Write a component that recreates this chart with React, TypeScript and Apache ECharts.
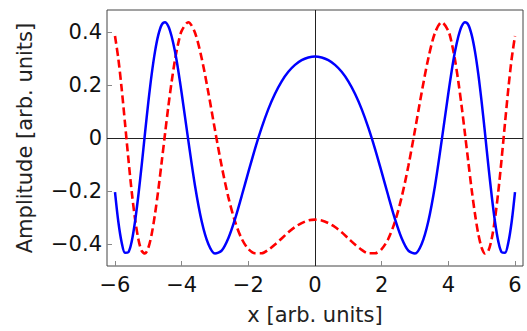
import React, { useEffect, useRef } from "react";
import * as echarts from "echarts";

const xs = [
  -6.0, -5.9, -5.8, -5.7, -5.6, -5.5, -5.4, -5.3, -5.2, -5.1, -5.0, -4.9, -4.8, -4.7, -4.6, -4.5, -4.4, -4.3, -4.2, -4.1,
  -4.0, -3.8, -3.6, -3.4, -3.2, -3.0, -2.8, -2.6, -2.4, -2.2, -2.0, -1.8, -1.6, -1.4, -1.2, -1.0, -0.8, -0.6, -0.4, -0.2,
  0,
  0.2, 0.4, 0.6, 0.8, 1.0, 1.2, 1.4, 1.6, 1.8, 2.0, 2.2, 2.4, 2.6, 2.8, 3.0, 3.2, 3.4, 3.6, 3.8, 4.0,
  4.1, 4.2, 4.3, 4.4, 4.5, 4.6, 4.7, 4.8, 4.9, 5.0, 5.1, 5.2, 5.3, 5.4, 5.5, 5.6, 5.7, 5.8, 5.9, 6.0,
];

const blueValues = [
  -0.204, -0.316, -0.394, -0.433, -0.431, -0.391, -0.316, -0.217, -0.103, 0.018, 0.135, 0.24, 0.326, 0.389, 0.427, 0.437, 0.422, 0.383, 0.326, 0.253,
  0.169, -0.01, -0.18, -0.314, -0.4, -0.436, -0.425, -0.378, -0.306, -0.219, -0.129, -0.041, 0.039, 0.109, 0.167, 0.214, 0.25, 0.276, 0.294, 0.304,
  0.308,
  0.304, 0.294, 0.276, 0.25, 0.214, 0.167, 0.109, 0.039, -0.041, -0.129, -0.219, -0.306, -0.378, -0.425, -0.436, -0.4, -0.314, -0.18, -0.01, 0.169,
  0.253, 0.326, 0.383, 0.422, 0.437, 0.427, 0.389, 0.326, 0.24, 0.135, 0.018, -0.103, -0.217, -0.316, -0.391, -0.431, -0.433, -0.394, -0.316, -0.204,
];

const redValues = [
  0.385, 0.299, 0.186, 0.056, -0.077, -0.201, -0.304, -0.381, -0.426, -0.436, -0.414, -0.363, -0.287, -0.195, -0.091, 0.015, 0.119, 0.213, 0.295, 0.359,
  0.404, 0.437, 0.397, 0.301, 0.172, 0.03, -0.106, -0.223, -0.315, -0.38, -0.419, -0.435, -0.435, -0.422, -0.402, -0.379, -0.356, -0.336, -0.321, -0.311,
  -0.308,
  -0.311, -0.321, -0.336, -0.356, -0.379, -0.402, -0.422, -0.435, -0.435, -0.419, -0.38, -0.315, -0.223, -0.106, 0.03, 0.172, 0.301, 0.397, 0.437, 0.404,
  0.359, 0.295, 0.213, 0.119, 0.015, -0.091, -0.195, -0.287, -0.363, -0.414, -0.436, -0.426, -0.381, -0.304, -0.201, -0.077, 0.056, 0.186, 0.299, 0.385,
];

const xTicks = [-6, -4, -2, 0, 2, 4, 6];
const yTicks = [-0.4, -0.2, 0, 0.2, 0.4];

const FONT = "DejaVu Sans";

const fmt = (v: number) => {
  if (Math.abs(v) < 1e-9) return "0";
  const s = String(Math.round(Math.abs(v) * 10) / 10);
  return (v < 0 ? "\u2212" : "") + s;
};

export default function App() {
  const ref = useRef<HTMLDivElement>(null);
  useEffect(() => {
    if (!ref.current) return;
    const chart = echarts.init(ref.current, undefined, { renderer: "svg" });
    chart.setOption({
      animation: false,
      backgroundColor: "#ffffff",
      grid: {
        left: 107,
        right: 4,
        top: 10,
        bottom: 65,
        show: true,
        borderColor: "#444",
        borderWidth: 1,
        backgroundColor: "transparent",
      },
      xAxis: {
        type: "value",
        min: -6.24,
        max: 6.24,
        name: "x [arb. units]",
        nameLocation: "middle",
        nameGap: 38,
        nameTextStyle: { fontFamily: FONT, fontSize: 21, color: "#222" },
        axisLine: { show: false, onZero: false },
        splitLine: { show: false },
        axisTick: { show: true, inside: true, length: 5, customValues: xTicks, lineStyle: { color: "#888" } },
        axisLabel: {
          customValues: xTicks,
          fontFamily: FONT,
          fontSize: 21,
          color: "#111",
          margin: 8,
          formatter: (v: number) => fmt(v),
        },
      },
      yAxis: {
        type: "value",
        min: -0.483,
        max: 0.483,
        name: "Amplitude [arb. units]",
        nameLocation: "middle",
        nameGap: 72,
        nameTextStyle: { fontFamily: FONT, fontSize: 21, color: "#222" },
        axisLine: { show: false, onZero: false },
        splitLine: { show: false },
        axisTick: { show: true, inside: true, length: 5, customValues: yTicks, lineStyle: { color: "#888" } },
        axisLabel: {
          customValues: yTicks,
          fontFamily: FONT,
          fontSize: 21,
          color: "#111",
          margin: 5,
          formatter: (v: number) => fmt(v),
        },
      },
      series: [
        {
          type: "line",
          data: xs.map((x, i) => [x, blueValues[i]]),
          showSymbol: false,
          smooth: 0.3,
          z: 3,
          lineStyle: { color: "#0000ff", width: 2.5 },
          markLine: {
            silent: true,
            symbol: "none",
            label: { show: false },
            lineStyle: { color: "#222", width: 1, type: "solid" },
            z: 1,
            data: [{ xAxis: 0 }, { yAxis: 0 }],
          },
        },
        {
          type: "line",
          data: xs.map((x, i) => [x, redValues[i]]),
          showSymbol: false,
          smooth: 0.3,
          z: 2,
          lineStyle: { color: "#ff0000", width: 2.6, type: [8, 4] },
        },
      ],
    });
    return () => chart.dispose();
  }, []);
  return <div ref={ref} style={{ position: "fixed", left: 0, top: 0, width: 527, height: 331 }} />;
}
